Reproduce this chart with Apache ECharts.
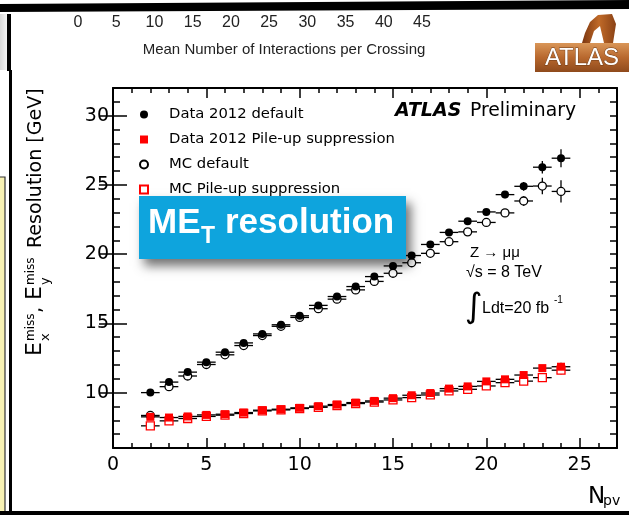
<!DOCTYPE html>
<html>
<head>
<meta charset="utf-8">
<script src="https://cdn.jsdelivr.net/npm/echarts@6/dist/echarts.min.js"></script>
<style>
  html, body { margin: 0; padding: 0; background: #fff; }
  #chart { width: 629px; height: 515px; }
</style>
</head>
<body>
<div id="chart"></div>
<script>
// Number of reconstructed primary vertices per bin
const npv = [2, 3, 4, 5, 6, 7, 8, 9, 10, 11, 12, 13, 14, 15, 16, 17, 18, 19, 20, 21, 22, 23, 24];

// MET resolution [GeV] and statistical uncertainties
const dataDefault    = [10.0, 10.76, 11.48, 12.2, 12.92, 13.59, 14.24, 14.9, 15.55, 16.3, 16.94, 17.66, 18.38, 19.15, 19.9, 20.7, 21.57, 22.38, 23.05, 24.3, 24.9, 26.28, 26.93];
const dataDefaultErr = [0.05, 0.05, 0.05, 0.05, 0.05, 0.05, 0.05, 0.06, 0.06, 0.07, 0.08, 0.09, 0.1, 0.11, 0.12, 0.14, 0.16, 0.19, 0.22, 0.26, 0.32, 0.45, 0.65];
const dataPU         = [8.25, 8.2, 8.28, 8.39, 8.44, 8.56, 8.73, 8.8, 8.9, 9.02, 9.14, 9.28, 9.4, 9.6, 9.81, 9.97, 10.29, 10.45, 10.81, 10.96, 11.27, 11.77, 11.87];
const dataPUErr      = [0.03, 0.03, 0.03, 0.03, 0.03, 0.03, 0.03, 0.03, 0.03, 0.04, 0.04, 0.04, 0.05, 0.05, 0.06, 0.07, 0.08, 0.09, 0.1, 0.12, 0.15, 0.2, 0.28];
const mcDefault      = [8.35, 10.43, 11.2, 12.03, 12.73, 13.4, 14.12, 14.79, 15.43, 16.06, 16.75, 17.42, 18.03, 18.62, 19.38, 20.06, 20.9, 21.61, 22.29, 22.98, 23.84, 24.92, 24.53];
const mcDefaultErr   = [0.05, 0.05, 0.05, 0.05, 0.05, 0.05, 0.05, 0.06, 0.06, 0.07, 0.08, 0.09, 0.1, 0.11, 0.12, 0.14, 0.17, 0.2, 0.23, 0.28, 0.35, 0.6, 0.8];
const mcPU           = [7.6, 7.96, 8.13, 8.28, 8.37, 8.49, 8.68, 8.75, 8.85, 8.94, 9.07, 9.21, 9.32, 9.47, 9.64, 9.83, 10.12, 10.24, 10.48, 10.72, 10.83, 11.08, 11.62];
const mcPUErr        = [0.03, 0.03, 0.03, 0.03, 0.03, 0.03, 0.03, 0.03, 0.03, 0.04, 0.04, 0.04, 0.05, 0.05, 0.06, 0.07, 0.08, 0.09, 0.1, 0.12, 0.15, 0.22, 0.3];

const seriesNames = ['Data 2012 default', 'Data 2012 Pile-up suppression', 'MC default', 'MC Pile-up suppression'];

// Axis ticks
const xMajor = [0, 5, 10, 15, 20, 25];
const yMajor = [10, 15, 20, 25, 30];
const muTicks = [0, 5, 10, 15, 20, 25, 30, 35, 40, 45];

const FONT = '"DejaVu Sans", sans-serif';
const ARIAL = '"Liberation Sans", Arial, sans-serif';

function points(vals, errs) {
  return npv.map((x, i) => [x, vals[i], errs[i]]);
}

// Horizontal bar spans the bin width, vertical bar the uncertainty
function renderErrors(params, api) {
  const x = api.value(0), y = api.value(1), e = api.value(2);
  const l = api.coord([x - 0.5, y]), r = api.coord([x + 0.5, y]);
  const lo = api.coord([x, y - e]), hi = api.coord([x, y + e]);
  return {
    type: 'group',
    children: [
      { type: 'line', shape: { x1: l[0], y1: l[1], x2: r[0], y2: r[1] }, style: { stroke: '#000', lineWidth: 1.3 } },
      { type: 'line', shape: { x1: lo[0], y1: lo[1], x2: hi[0], y2: hi[1] }, style: { stroke: '#000', lineWidth: 1.3 } }
    ]
  };
}

function errSeries(vals, errs) {
  return {
    type: 'custom', xAxisIndex: 0, yAxisIndex: 0, z: 2,
    renderItem: renderErrors, encode: { x: 0, y: 1 },
    data: points(vals, errs), silent: true
  };
}

function markerSeries(name, vals, errs, symbol, itemStyle, z) {
  return {
    name, type: 'scatter', xAxisIndex: 0, yAxisIndex: 0, z,
    symbol, symbolSize: 8, itemStyle: Object.assign({ opacity: 1 }, itemStyle),
    data: points(vals, errs).map(p => [p[0], p[1]]),
    emphasis: { disabled: true }, silent: true
  };
}

// Text centred vertically on y (y is roughly the middle of the capitals)
function label(x, y, text, font, extra) {
  return Object.assign({ type: 'text', z: 50, x, y,
    style: Object.assign({ text, font, fill: '#000', verticalAlign: 'middle' }, extra || {}) });
}

const axisLineStyle = { color: '#000', width: 2 };
const tickLine = { color: '#000', width: 1.5 };

const option = {
  animation: false,
  grid: [
    { left: 113, right: 12, top: 88, bottom: 67 },
    { left: 78, width: 344, top: 0, height: 12 }
  ],
  xAxis: [
    { gridIndex: 0, type: 'value', min: 0, max: 27, position: 'bottom',
      axisLine: { show: true, onZero: false, lineStyle: axisLineStyle },
      axisTick: { inside: true, length: 10, customValues: xMajor, lineStyle: tickLine },
      axisLabel: { customValues: xMajor, fontFamily: FONT, fontSize: 19, color: '#000', margin: 8 },
      splitLine: { show: false } },
    { gridIndex: 0, type: 'value', min: 0, max: 27, interval: 1, position: 'bottom',
      axisLine: { show: false }, axisTick: { inside: true, length: 5, lineStyle: tickLine },
      axisLabel: { show: false }, splitLine: { show: false } },
    { gridIndex: 0, type: 'value', min: 0, max: 27, position: 'top',
      axisLine: { show: true, onZero: false, lineStyle: axisLineStyle },
      axisTick: { inside: true, length: 10, customValues: xMajor, lineStyle: tickLine },
      axisLabel: { show: false }, splitLine: { show: false } },
    { gridIndex: 0, type: 'value', min: 0, max: 27, interval: 1, position: 'top',
      axisLine: { show: false }, axisTick: { inside: true, length: 5, lineStyle: tickLine },
      axisLabel: { show: false }, splitLine: { show: false } },
    { gridIndex: 1, type: 'value', min: 0, max: 45, position: 'bottom',
      axisLine: { show: false }, axisTick: { show: false },
      axisLabel: { customValues: muTicks, fontFamily: ARIAL, fontSize: 16, color: '#222', margin: 3 },
      splitLine: { show: false } }
  ],
  yAxis: [
    { gridIndex: 0, type: 'value', min: 6, max: 32, interval: 1, position: 'left',
      axisLine: { show: true, onZero: false, lineStyle: axisLineStyle },
      axisTick: { inside: true, length: 7, lineStyle: tickLine },
      axisLabel: { customValues: yMajor, fontFamily: FONT, fontSize: 19, color: '#000', margin: 4 },
      splitLine: { show: false } },
    { gridIndex: 0, type: 'value', min: 6, max: 32, position: 'left',
      axisLine: { show: false },
      axisTick: { inside: true, length: 14, customValues: yMajor, lineStyle: tickLine },
      axisLabel: { show: false }, splitLine: { show: false } },
    { gridIndex: 0, type: 'value', min: 6, max: 32, interval: 1, position: 'right',
      axisLine: { show: true, onZero: false, lineStyle: axisLineStyle },
      axisTick: { inside: true, length: 7, lineStyle: tickLine },
      axisLabel: { show: false }, splitLine: { show: false } },
    { gridIndex: 0, type: 'value', min: 6, max: 32, position: 'right',
      axisLine: { show: false },
      axisTick: { inside: true, length: 14, customValues: yMajor, lineStyle: tickLine },
      axisLabel: { show: false }, splitLine: { show: false } },
    { gridIndex: 1, type: 'value', show: false }
  ],
  legend: {
    data: seriesNames, orient: 'vertical', left: 139, top: 107, padding: 0,
    itemWidth: 8, itemHeight: 8, itemGap: 10, selectedMode: false,
    textStyle: { fontFamily: FONT, fontSize: 14.8, color: '#000', padding: [0, 0, 0, 16] }
  },
  series: [
    errSeries(dataDefault, dataDefaultErr),
    errSeries(dataPU, dataPUErr),
    errSeries(mcDefault, mcDefaultErr),
    errSeries(mcPU, mcPUErr),
    markerSeries('MC default', mcDefault, mcDefaultErr, 'circle', { color: '#fff', borderColor: '#000', borderWidth: 1.3 }, 3),
    markerSeries('MC Pile-up suppression', mcPU, mcPUErr, 'rect', { color: '#fff', borderColor: '#f00', borderWidth: 1.3 }, 3),
    markerSeries('Data 2012 default', dataDefault, dataDefaultErr, 'circle', { color: '#000' }, 4),
    markerSeries('Data 2012 Pile-up suppression', dataPU, dataPUErr, 'rect', { color: '#f00' }, 4)
  ],
  graphic: [
    // slide frame pieces
    { type: 'polygon', z: 50, shape: { points: [[0, 4], [629, 0], [629, 9], [0, 12]] }, style: { fill: '#000' } },
    { type: 'rect', z: 50, shape: { x: 0, y: 14, width: 7, height: 56 },
      style: { fill: new echarts.graphic.LinearGradient(0, 0, 1, 0, [{ offset: 0, color: '#d8d8d8' }, { offset: 1, color: '#f4f4f4' }]) } },
    { type: 'rect', z: 50, shape: { x: 7, y: 14, width: 4, height: 57 }, style: { fill: '#000' } },
    { type: 'rect', z: 50, shape: { x: 9, y: 70, width: 3, height: 442 }, style: { fill: '#000' } },
    { type: 'rect', z: 50, shape: { x: -2, y: 177, width: 7, height: 340 }, style: { fill: '#f8f2b4', stroke: '#333', lineWidth: 1.2 } },
    { type: 'rect', z: 50, shape: { x: 0, y: 511, width: 629, height: 4 }, style: { fill: '#000' } },

    // ATLAS logo
    { type: 'polygon', z: 50,
      shape: { points: [[582, 43], [590, 43], [594, 31], [600, 26], [604, 43], [613, 43], [616, 24], [612, 14], [598, 15], [590, 22], [585, 33]] },
      style: { fill: new echarts.graphic.LinearGradient(0, 0, 1, 0, [{ offset: 0, color: '#7a3510' }, { offset: 0.5, color: '#c06a28' }, { offset: 1, color: '#8a4216' }]) } },
    { type: 'rect', z: 50, shape: { x: 535, y: 43, width: 94, height: 29 },
      style: { fill: new echarts.graphic.LinearGradient(0, 0, 0, 1, [{ offset: 0, color: '#d99658' }, { offset: 0.5, color: '#b8682e' }, { offset: 1, color: '#8f4a1c' }]) } },
    label(582, 58, 'ATLAS', '24px ' + ARIAL, { fill: '#fff', stroke: '#6b3a18', lineWidth: 0.8, align: 'center' }),

    // title of the cut-off upper axis
    label(284, 50, 'Mean Number of Interactions per Crossing', '15px ' + ARIAL, { fill: '#222', align: 'center' }),

    // y-axis title, written bottom to top
    { type: 'group', z: 50, x: 43, y: 356, rotation: Math.PI / 2,
      children: [
        label(0, -8, 'E', '22px ' + FONT),
        label(15, -12, 'miss', '12px ' + FONT),
        label(15, 3, 'x', '13px ' + FONT),
        label(43, -7, ',', '19px ' + FONT),
        label(56, -8, 'E', '22px ' + FONT),
        label(71, -12, 'miss', '12px ' + FONT),
        label(71, 3, 'y', '13px ' + FONT),
        label(108, -7, 'Resolution [GeV]', '19px ' + FONT)
      ] },

    // x-axis title
    label(588, 497, 'N', '23px ' + FONT),
    label(603, 501, 'pv', '14px ' + FONT),

    // plot annotations
    label(395, 111, 'ATLAS', 'italic bold 19px ' + FONT),
    label(470, 111, 'Preliminary', '18.8px ' + FONT),
    label(470, 253, 'Z \u2192 \u03bc\u03bc', '15px ' + ARIAL),
    label(466, 273, '\u221As = 8 TeV', '16px ' + ARIAL),
    label(465, 308, '\u222B', '34px ' + FONT),
    label(482, 309, 'Ldt=20 fb', '16px ' + ARIAL),
    label(554, 300, '-1', '10px ' + ARIAL),

    // highlighted caption box
    { type: 'rect', z: 60, shape: { x: 139, y: 196, width: 267, height: 63 },
      style: { fill: '#0ea4dd', shadowBlur: 10, shadowColor: 'rgba(0,0,0,0.55)', shadowOffsetX: 5, shadowOffsetY: 7 } },
    Object.assign(label(148, 223, 'ME', 'bold 35px ' + ARIAL, { fill: '#fff' }), { z: 61 }),
    Object.assign(label(201, 237, 'T', 'bold 23px ' + ARIAL, { fill: '#fff' }), { z: 61 }),
    Object.assign(label(225, 223, 'resolution', 'bold 35px ' + ARIAL, { fill: '#fff' }), { z: 61 })
  ]
};

const chart = echarts.init(document.getElementById('chart'), null, { renderer: 'canvas' });
chart.setOption(option);
</script>
</body>
</html>
